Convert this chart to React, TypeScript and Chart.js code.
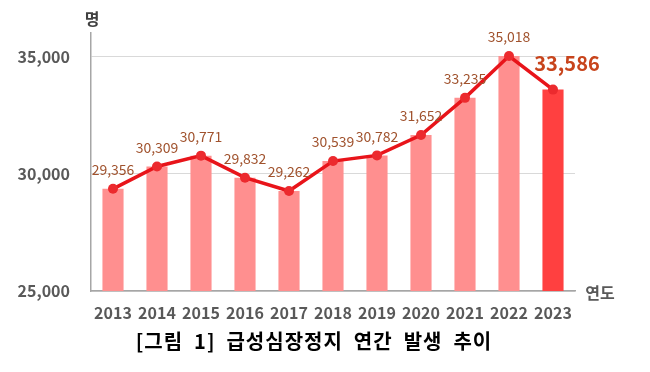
import React, { useEffect, useRef } from "react";
import { Chart, registerables } from "chart.js";

Chart.register(...registerables);

const years = ["2013", "2014", "2015", "2016", "2017", "2018", "2019", "2020", "2021", "2022", "2023"];
const cases = [29356, 30309, 30771, 29832, 29262, 30539, 30782, 31652, 33235, 35018, 33586];
const yTicks = [25000, 30000, 35000];
const captionWords = ["[그림", "1]", "급성심장정지", "연간", "발생", "추이"];
const yUnit = "명";
const xUnit = "연도";

const FONT = "'Noto Sans CJK KR', 'Noto Sans', sans-serif";
const fmt = (v: number) => v.toLocaleString("en-US");

const labelPlugin = {
  id: "customLabels",
  afterDatasetsDraw(chart: any) {
    const ctx = chart.ctx;
    const meta = chart.getDatasetMeta(1);
    const area = chart.chartArea;
    ctx.save();
    ctx.textAlign = "center";
    ctx.textBaseline = "middle";
    meta.data.forEach((pt: any, i: number) => {
      const last = i === cases.length - 1;
      if (last) {
        ctx.font = `bold 20px ${FONT}`;
        ctx.fillStyle = "#c8441c";
        ctx.fillText(fmt(cases[i]), pt.x + 14, pt.y - 26);
      } else {
        ctx.font = `14px ${FONT}`;
        ctx.fillStyle = "#a0522d";
        ctx.fillText(fmt(cases[i]), pt.x, pt.y - 19);
      }
    });
    ctx.font = `bold 16px ${FONT}`;
    ctx.fillStyle = "#404040";
    ctx.fillText(yUnit, area.left + 1, 19);
    ctx.fillStyle = "#595959";
    ctx.fillText(xUnit, area.right + 25, area.bottom + 2);

    // caption
    ctx.font = `bold 20px ${FONT}`;
    try { (ctx as any).letterSpacing = "1px"; } catch (e) {}
    ctx.fillStyle = "#000000";
    ctx.textAlign = "left";
    const gap = 11;
    const widths = captionWords.map((w) => ctx.measureText(w).width);
    const total = widths.reduce((a, b) => a + b, 0) + gap * (captionWords.length - 1);
    let x = 314 - total / 2;
    captionWords.forEach((w, i) => {
      ctx.fillText(w, x, 341);
      x += widths[i] + gap;
    });
    ctx.restore();
  },
};

export default function App() {
  const ref = useRef<HTMLCanvasElement>(null);
  useEffect(() => {
    if (!ref.current) return;
    const chart = new Chart(ref.current, {
      data: {
        labels: years,
        datasets: [
          {
            type: "line",
            data: cases,
            borderColor: "#e8141a",
            backgroundColor: "#e8141a",
            borderWidth: 3.5,
            pointRadius: 5,
            pointBorderWidth: 0,
            pointBackgroundColor: "#ec2a2e",
            tension: 0,
            order: 0,
          } as any,
          {
            type: "bar",
            data: cases,
            backgroundColor: cases.map((_, i) => (i === cases.length - 1 ? "#ff4040" : "#ff8f8f")),
            barPercentage: 0.48,
            categoryPercentage: 1,
            order: 1,
          } as any,
        ],
      },
      options: {
        animation: false,
        responsive: true,
        maintainAspectRatio: false,
        layout: { padding: { left: 8, right: 75, top: 33, bottom: 46 } },
        plugins: {
          legend: { display: false },
          tooltip: { enabled: false },
          title: { display: false },
        },
        scales: {
          x: {
            grid: { display: false, drawTicks: false },
            border: { display: true, color: "#a6a6a6", width: 1.5 },
            ticks: { color: "#595959", font: { family: FONT, size: 16, weight: "bold" }, padding: 12, maxRotation: 0 },
            afterFit: (s: any) => { s.height = 35; },
          },
          y: {
            min: 25000,
            max: 36000,
            afterBuildTicks: (s: any) => { s.ticks = yTicks.map((v) => ({ value: v })); },
            grid: { color: "#d9d9d9", drawTicks: false },
            border: { display: true, color: "#a6a6a6", width: 1.5 },
            ticks: {
              color: "#595959",
              font: { family: FONT, size: 16, weight: "bold" },
              padding: 21,
              callback: (v: any) => fmt(Number(v)),
            },
            afterFit: (s: any) => { s.width = 83; },
          },
        },
      },
      plugins: [labelPlugin],
    } as any);
    return () => chart.destroy();
  }, []);
  return (
    <div style={{ position: "absolute", left: 0, top: 0, width: 650, height: 372, background: "#fff" }}>
      <canvas ref={ref} />
    </div>
  );
}
